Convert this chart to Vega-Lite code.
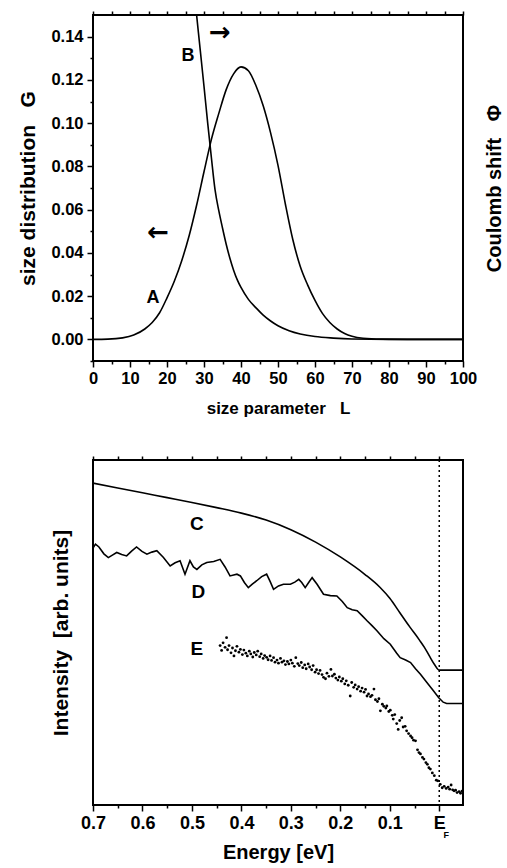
{
  "$schema": "https://vega.github.io/schema/vega-lite/v6.json",
  "padding": {"left": 16, "top": 9, "right": 0, "bottom": 0},
  "background": "white",
  "spacing": 99,
  "bounds": "flush",
  "config": {
    "view": {"stroke": "black", "strokeWidth": 2},
    "axis": {"grid": false, "domain": false, "tickColor": "black", "tickWidth": 1.5, "labelColor": "black", "titleColor": "black", "labelFont": "Liberation Sans", "titleFont": "Liberation Sans", "labelFontWeight": "bold", "titleFontWeight": "bold", "labelOverlap": false, "labelFlush": false},
    "text": {"font": "Liberation Sans", "fontWeight": "bold", "color": "black"}
  },
  "datasets": {
    "curveA": [
      {"L": 0, "G": 0.0}, {"L": 4, "G": 0.0001}, {"L": 8, "G": 0.0007}, {"L": 11, "G": 0.002}, {"L": 14, "G": 0.0048},
      {"L": 16, "G": 0.0078}, {"L": 18, "G": 0.0123}, {"L": 20, "G": 0.0192}, {"L": 22, "G": 0.027}, {"L": 24, "G": 0.0365},
      {"L": 26, "G": 0.048}, {"L": 28, "G": 0.062}, {"L": 30, "G": 0.0775}, {"L": 32, "G": 0.0925}, {"L": 34, "G": 0.1045},
      {"L": 36, "G": 0.1155}, {"L": 38, "G": 0.1228}, {"L": 40, "G": 0.126}, {"L": 42, "G": 0.1242}, {"L": 44, "G": 0.1175},
      {"L": 46, "G": 0.108}, {"L": 48, "G": 0.0955}, {"L": 50, "G": 0.0805}, {"L": 52, "G": 0.0625}, {"L": 54, "G": 0.0462},
      {"L": 56, "G": 0.0338}, {"L": 58, "G": 0.0252}, {"L": 60, "G": 0.018}, {"L": 62, "G": 0.012}, {"L": 64, "G": 0.0078},
      {"L": 66, "G": 0.0048}, {"L": 68, "G": 0.0027}, {"L": 70, "G": 0.0014}, {"L": 73, "G": 0.0005}, {"L": 78, "G": 0.0001},
      {"L": 85, "G": 0.0}, {"L": 100, "G": 0.0}
    ],
    "curveB": [
      {"L": 28.0, "G": 0.15}, {"L": 29.0, "G": 0.1335}, {"L": 30.0, "G": 0.117}, {"L": 31.0, "G": 0.1}, {"L": 32.0, "G": 0.084},
      {"L": 33.0, "G": 0.069}, {"L": 34.0, "G": 0.0595}, {"L": 35.0, "G": 0.0515}, {"L": 36.0, "G": 0.044}, {"L": 37.0, "G": 0.0375},
      {"L": 38.0, "G": 0.032}, {"L": 39.0, "G": 0.0275}, {"L": 40.0, "G": 0.024}, {"L": 42.0, "G": 0.0185}, {"L": 44.0, "G": 0.0147},
      {"L": 46.0, "G": 0.0112}, {"L": 48.0, "G": 0.0085}, {"L": 50.0, "G": 0.0063}, {"L": 53.0, "G": 0.004}, {"L": 56.0, "G": 0.0025},
      {"L": 60.0, "G": 0.0013}, {"L": 65.0, "G": 0.0006}, {"L": 70.0, "G": 0.0002}, {"L": 80.0, "G": 0.0}, {"L": 100.0, "G": 0.0}
    ],
    "labelsTop": [
      {"L": 16.2, "G": 0.0193, "t": "A"}, {"L": 25.7, "G": 0.131, "t": "B"}
    ],
    "arrowsTop": [
      {"L": 34.3, "G": 0.1419, "t": "→"}, {"L": 17.6, "G": 0.049, "t": "←"}
    ],
    "curveC": [
      {"E": 0.7, "I": 0.933}, {"E": 0.65, "I": 0.919}, {"E": 0.6, "I": 0.905}, {"E": 0.55, "I": 0.891}, {"E": 0.5, "I": 0.877},
      {"E": 0.45, "I": 0.862}, {"E": 0.4, "I": 0.846}, {"E": 0.35, "I": 0.826}, {"E": 0.3, "I": 0.798}, {"E": 0.25, "I": 0.762},
      {"E": 0.2, "I": 0.719}, {"E": 0.15, "I": 0.668}, {"E": 0.12, "I": 0.631}, {"E": 0.1, "I": 0.599}, {"E": 0.08, "I": 0.558},
      {"E": 0.06, "I": 0.517}, {"E": 0.04, "I": 0.478}, {"E": 0.03, "I": 0.457}, {"E": 0.02, "I": 0.432}, {"E": 0.01, "I": 0.408},
      {"E": 0.0, "I": 0.391}, {"E": -0.01, "I": 0.391}, {"E": -0.048, "I": 0.391}
    ],
    "curveD": [
      {"E": 0.7, "I": 0.745}, {"E": 0.695, "I": 0.756}, {"E": 0.688, "I": 0.748}, {"E": 0.678, "I": 0.728}, {"E": 0.669, "I": 0.717},
      {"E": 0.66, "I": 0.725}, {"E": 0.652, "I": 0.732}, {"E": 0.642, "I": 0.726}, {"E": 0.632, "I": 0.722}, {"E": 0.622, "I": 0.736},
      {"E": 0.612, "I": 0.748}, {"E": 0.601, "I": 0.735}, {"E": 0.591, "I": 0.727}, {"E": 0.581, "I": 0.733}, {"E": 0.571, "I": 0.737},
      {"E": 0.558, "I": 0.718}, {"E": 0.544, "I": 0.693}, {"E": 0.534, "I": 0.702}, {"E": 0.524, "I": 0.708}, {"E": 0.514, "I": 0.669},
      {"E": 0.504, "I": 0.708}, {"E": 0.497, "I": 0.69}, {"E": 0.49, "I": 0.683}, {"E": 0.48, "I": 0.696}, {"E": 0.47, "I": 0.703},
      {"E": 0.456, "I": 0.706}, {"E": 0.443, "I": 0.712}, {"E": 0.433, "I": 0.69}, {"E": 0.423, "I": 0.664}, {"E": 0.409, "I": 0.669},
      {"E": 0.402, "I": 0.664}, {"E": 0.394, "I": 0.645}, {"E": 0.386, "I": 0.63}, {"E": 0.378, "I": 0.64}, {"E": 0.369, "I": 0.65},
      {"E": 0.359, "I": 0.662}, {"E": 0.349, "I": 0.669}, {"E": 0.342, "I": 0.648}, {"E": 0.335, "I": 0.625}, {"E": 0.325, "I": 0.635},
      {"E": 0.315, "I": 0.64}, {"E": 0.301, "I": 0.64}, {"E": 0.292, "I": 0.646}, {"E": 0.284, "I": 0.654}, {"E": 0.278, "I": 0.645},
      {"E": 0.271, "I": 0.63}, {"E": 0.264, "I": 0.645}, {"E": 0.257, "I": 0.659}, {"E": 0.247, "I": 0.64}, {"E": 0.234, "I": 0.611},
      {"E": 0.22, "I": 0.607}, {"E": 0.207, "I": 0.606}, {"E": 0.196, "I": 0.59}, {"E": 0.186, "I": 0.572}, {"E": 0.176, "I": 0.566},
      {"E": 0.166, "I": 0.563}, {"E": 0.156, "I": 0.549}, {"E": 0.146, "I": 0.534}, {"E": 0.136, "I": 0.52}, {"E": 0.126, "I": 0.505},
      {"E": 0.112, "I": 0.482}, {"E": 0.099, "I": 0.466}, {"E": 0.086, "I": 0.44}, {"E": 0.079, "I": 0.427}, {"E": 0.068, "I": 0.42},
      {"E": 0.058, "I": 0.413}, {"E": 0.048, "I": 0.395}, {"E": 0.038, "I": 0.379}, {"E": 0.025, "I": 0.355}, {"E": 0.013, "I": 0.333},
      {"E": 0.001, "I": 0.311}, {"E": -0.008, "I": 0.298}, {"E": -0.015, "I": 0.294}, {"E": -0.048, "I": 0.294}
    ],
    "pointsE": [
      {"E": 0.443, "I": 0.462}, {"E": 0.44, "I": 0.448}, {"E": 0.437, "I": 0.47}, {"E": 0.433, "I": 0.457}, {"E": 0.43, "I": 0.485},
      {"E": 0.428, "I": 0.45}, {"E": 0.425, "I": 0.462}, {"E": 0.421, "I": 0.441}, {"E": 0.418, "I": 0.455}, {"E": 0.415, "I": 0.432},
      {"E": 0.412, "I": 0.447}, {"E": 0.409, "I": 0.46}, {"E": 0.405, "I": 0.443}, {"E": 0.402, "I": 0.451}, {"E": 0.398, "I": 0.436},
      {"E": 0.395, "I": 0.449}, {"E": 0.391, "I": 0.44}, {"E": 0.388, "I": 0.432}, {"E": 0.384, "I": 0.446}, {"E": 0.381, "I": 0.438},
      {"E": 0.377, "I": 0.429}, {"E": 0.374, "I": 0.442}, {"E": 0.37, "I": 0.435}, {"E": 0.367, "I": 0.446}, {"E": 0.363, "I": 0.43},
      {"E": 0.36, "I": 0.438}, {"E": 0.356, "I": 0.425}, {"E": 0.353, "I": 0.433}, {"E": 0.349, "I": 0.428}, {"E": 0.346, "I": 0.421},
      {"E": 0.342, "I": 0.432}, {"E": 0.339, "I": 0.419}, {"E": 0.335, "I": 0.427}, {"E": 0.332, "I": 0.414}, {"E": 0.328, "I": 0.42},
      {"E": 0.325, "I": 0.411}, {"E": 0.321, "I": 0.425}, {"E": 0.318, "I": 0.414}, {"E": 0.314, "I": 0.418}, {"E": 0.311, "I": 0.407},
      {"E": 0.307, "I": 0.416}, {"E": 0.304, "I": 0.409}, {"E": 0.3, "I": 0.42}, {"E": 0.297, "I": 0.411}, {"E": 0.293, "I": 0.402},
      {"E": 0.29, "I": 0.427}, {"E": 0.286, "I": 0.41}, {"E": 0.283, "I": 0.404}, {"E": 0.279, "I": 0.413}, {"E": 0.276, "I": 0.398},
      {"E": 0.272, "I": 0.406}, {"E": 0.269, "I": 0.395}, {"E": 0.265, "I": 0.409}, {"E": 0.262, "I": 0.4}, {"E": 0.258, "I": 0.392},
      {"E": 0.255, "I": 0.404}, {"E": 0.251, "I": 0.385}, {"E": 0.248, "I": 0.392}, {"E": 0.244, "I": 0.381}, {"E": 0.241, "I": 0.39},
      {"E": 0.237, "I": 0.378}, {"E": 0.234, "I": 0.37}, {"E": 0.23, "I": 0.366}, {"E": 0.227, "I": 0.382}, {"E": 0.223, "I": 0.373},
      {"E": 0.219, "I": 0.393}, {"E": 0.216, "I": 0.374}, {"E": 0.212, "I": 0.379}, {"E": 0.209, "I": 0.368}, {"E": 0.205, "I": 0.362},
      {"E": 0.202, "I": 0.371}, {"E": 0.198, "I": 0.359}, {"E": 0.195, "I": 0.366}, {"E": 0.191, "I": 0.351}, {"E": 0.188, "I": 0.36},
      {"E": 0.184, "I": 0.347}, {"E": 0.18, "I": 0.316}, {"E": 0.177, "I": 0.355}, {"E": 0.173, "I": 0.341}, {"E": 0.17, "I": 0.348},
      {"E": 0.166, "I": 0.336}, {"E": 0.163, "I": 0.343}, {"E": 0.159, "I": 0.33}, {"E": 0.156, "I": 0.339}, {"E": 0.152, "I": 0.327},
      {"E": 0.149, "I": 0.335}, {"E": 0.146, "I": 0.316}, {"E": 0.143, "I": 0.322}, {"E": 0.139, "I": 0.314}, {"E": 0.136, "I": 0.318},
      {"E": 0.132, "I": 0.336}, {"E": 0.129, "I": 0.305}, {"E": 0.125, "I": 0.3}, {"E": 0.122, "I": 0.308}, {"E": 0.119, "I": 0.273},
      {"E": 0.115, "I": 0.292}, {"E": 0.112, "I": 0.286}, {"E": 0.108, "I": 0.281}, {"E": 0.106, "I": 0.287}, {"E": 0.102, "I": 0.271},
      {"E": 0.099, "I": 0.275}, {"E": 0.095, "I": 0.26}, {"E": 0.093, "I": 0.249}, {"E": 0.09, "I": 0.262}, {"E": 0.086, "I": 0.236},
      {"E": 0.083, "I": 0.219}, {"E": 0.08, "I": 0.245}, {"E": 0.076, "I": 0.253}, {"E": 0.073, "I": 0.226}, {"E": 0.069, "I": 0.228},
      {"E": 0.066, "I": 0.215}, {"E": 0.062, "I": 0.207}, {"E": 0.058, "I": 0.2}, {"E": 0.055, "I": 0.195}, {"E": 0.052, "I": 0.188},
      {"E": 0.048, "I": 0.186}, {"E": 0.044, "I": 0.16}, {"E": 0.041, "I": 0.152}, {"E": 0.038, "I": 0.148}, {"E": 0.034, "I": 0.138},
      {"E": 0.031, "I": 0.133}, {"E": 0.027, "I": 0.123}, {"E": 0.024, "I": 0.118}, {"E": 0.021, "I": 0.108}, {"E": 0.018, "I": 0.104},
      {"E": 0.014, "I": 0.093}, {"E": 0.01, "I": 0.085}, {"E": 0.006, "I": 0.072}, {"E": 0.003, "I": 0.07}, {"E": -0.002, "I": 0.06},
      {"E": -0.006, "I": 0.05}, {"E": -0.01, "I": 0.054}, {"E": -0.014, "I": 0.048}, {"E": -0.018, "I": 0.052}, {"E": -0.021, "I": 0.046},
      {"E": -0.024, "I": 0.058}, {"E": -0.027, "I": 0.044}, {"E": -0.03, "I": 0.041}, {"E": -0.033, "I": 0.043}, {"E": -0.036, "I": 0.036},
      {"E": -0.04, "I": 0.039}, {"E": -0.043, "I": 0.034}, {"E": -0.046, "I": 0.04}
    ],
    "labelsBottom": [
      {"E": 0.49, "I": 0.814, "t": "C"}, {"E": 0.487, "I": 0.616, "t": "D"}, {"E": 0.49, "I": 0.452, "t": "E"}
    ],
    "fermi": [{"E": 0}],
    "subF": [{"E": -0.014, "I": -0.088, "t": "F"}]
  },
  "vconcat": [
    {
      "width": 370,
      "height": 346,
      "resolve": {"axis": {"x": "independent", "y": "independent"}},
      "layer": [
        {
          "data": {"name": "curveA"},
          "mark": {"type": "line", "color": "black", "strokeWidth": 1.6, "clip": true, "interpolate": "monotone"},
          "encoding": {
            "x": {"field": "L", "type": "quantitative", "scale": {"domain": [0, 100], "nice": false},
              "axis": {"orient": "bottom", "values": [0, 10, 20, 30, 40, 50, 60, 70, 80, 90, 100], "tickSize": 6, "labelFontSize": 16.5, "labelPadding": 3, "title": "size parameter\u00a0\u00a0\u00a0L", "titleFontSize": 17, "titlePadding": 14}},
            "y": {"field": "G", "type": "quantitative", "scale": {"domain": [-0.01, 0.15], "nice": false, "zero": false},
              "axis": {"orient": "left", "values": [0, 0.02, 0.04, 0.06, 0.08, 0.1, 0.12, 0.14], "format": ".2f", "tickSize": 6, "labelFontSize": 16.5, "labelPadding": 4, "title": "size distribution\u00a0\u00a0\u00a0G", "titleFontSize": 21, "titlePadding": 12}}
          }
        },
        {
          "data": {"name": "curveB"},
          "mark": {"type": "line", "color": "black", "strokeWidth": 1.6, "clip": true, "interpolate": "monotone"},
          "encoding": {
            "x": {"field": "L", "type": "quantitative",
              "axis": {"orient": "top", "values": [0, 5, 10, 15, 20, 25, 30, 35, 40, 45, 50, 55, 60, 65, 70, 75, 80, 85, 90, 95, 100], "tickSize": 4, "labels": false, "title": null}},
            "y": {"field": "G", "type": "quantitative",
              "axis": {"orient": "right", "labels": false, "ticks": false, "title": "Coulomb shift\u00a0\u00a0\u00a0Φ", "titleFontSize": 20, "titlePadding": 41, "titleAngle": 270}}
          }
        },
        {
          "data": {"name": "labelsTop"},
          "mark": {"type": "text", "fontSize": 18, "align": "center", "baseline": "middle"},
          "encoding": {
            "x": {"field": "L", "type": "quantitative",
              "axis": {"orient": "bottom", "values": [5, 15, 25, 35, 45, 55, 65, 75, 85, 95], "tickSize": 3, "labels": false, "title": null}},
            "y": {"field": "G", "type": "quantitative",
              "axis": {"orient": "left", "values": [-0.01, 0.01, 0.03, 0.05, 0.07, 0.09, 0.11, 0.13], "tickSize": 3, "labels": false, "title": null}},
            "text": {"field": "t"}
          }
        },
        {
          "data": {"name": "arrowsTop"},
          "mark": {"type": "text", "font": "DejaVu Sans", "fontSize": 26, "fontWeight": "bold", "align": "center", "baseline": "middle"},
          "encoding": {
            "x": {"field": "L", "type": "quantitative", "axis": null},
            "y": {"field": "G", "type": "quantitative", "axis": null},
            "text": {"field": "t"}
          }
        }
      ]
    },
    {
      "width": 370,
      "height": 345,
      "resolve": {"axis": {"x": "independent", "y": "independent"}},
      "layer": [
        {
          "data": {"name": "curveC"},
          "mark": {"type": "line", "color": "black", "strokeWidth": 1.6, "clip": true, "interpolate": "monotone"},
          "encoding": {
            "x": {"field": "E", "type": "quantitative", "scale": {"domain": [-0.048, 0.7], "nice": false, "zero": false, "reverse": true},
              "axis": {"orient": "bottom", "values": [0.7, 0.6, 0.5, 0.4, 0.3, 0.2, 0.1, 0], "labelExpr": "datum.value == 0 ? 'E' : format(datum.value, '.1f')", "tickSize": 6, "labelFontSize": 18, "labelPadding": 3, "title": "Energy [eV]", "titleFontSize": 20, "titlePadding": 10}},
            "y": {"field": "I", "type": "quantitative", "scale": {"domain": [0, 1], "nice": false},
              "axis": {"orient": "left", "labels": false, "ticks": false, "title": "Intensity\u00a0\u00a0[arb. units]", "titleFontSize": 21, "titlePadding": 22}}
          }
        },
        {
          "data": {"name": "curveD"},
          "mark": {"type": "line", "color": "black", "strokeWidth": 1.6, "clip": true},
          "encoding": {
            "x": {"field": "E", "type": "quantitative",
              "axis": {"orient": "top", "values": [0.7, 0.65, 0.6, 0.55, 0.5, 0.45, 0.4, 0.35, 0.3, 0.25, 0.2, 0.15, 0.1, 0.05, 0], "tickSize": 4, "labels": false, "title": null}},
            "y": {"field": "I", "type": "quantitative", "axis": null}
          }
        },
        {
          "data": {"name": "pointsE"},
          "mark": {"type": "circle", "color": "black", "size": 8, "opacity": 1},
          "encoding": {
            "x": {"field": "E", "type": "quantitative",
              "axis": {"orient": "bottom", "values": [0.65, 0.55, 0.45, 0.35, 0.25, 0.15, 0.05], "tickSize": 3, "labels": false, "title": null}},
            "y": {"field": "I", "type": "quantitative", "axis": null}
          }
        },
        {
          "data": {"name": "fermi"},
          "mark": {"type": "rule", "color": "black", "strokeWidth": 1.5, "strokeDash": [2, 3]},
          "encoding": {
            "x": {"field": "E", "type": "quantitative", "axis": null}
          }
        },
        {
          "data": {"name": "labelsBottom"},
          "mark": {"type": "text", "fontSize": 19, "align": "center", "baseline": "middle"},
          "encoding": {
            "x": {"field": "E", "type": "quantitative", "axis": null},
            "y": {"field": "I", "type": "quantitative", "axis": null},
            "text": {"field": "t"}
          }
        },
        {
          "data": {"name": "subF"},
          "mark": {"type": "text", "fontSize": 9, "align": "center", "baseline": "middle"},
          "encoding": {
            "x": {"field": "E", "type": "quantitative", "axis": null},
            "y": {"field": "I", "type": "quantitative", "axis": null},
            "text": {"field": "t"}
          }
        }
      ]
    }
  ]
}
